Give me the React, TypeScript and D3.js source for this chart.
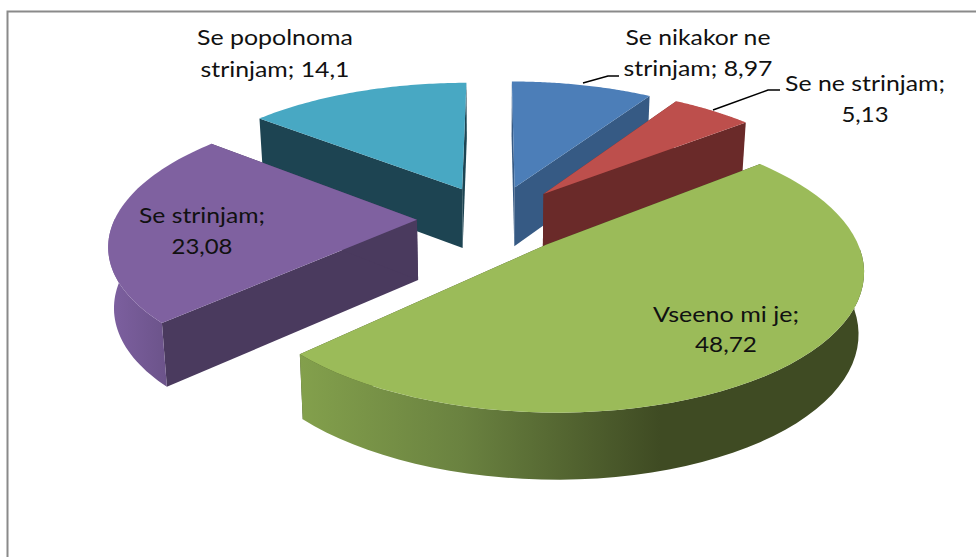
import React from "react";
import * as d3 from "d3";

const categories = ["Se nikakor ne strinjam", "Se ne strinjam", "Vseeno mi je", "Se strinjam", "Se popolnoma strinjam"];
const values = [8.97, 5.13, 48.72, 23.08, 14.1];
const topColors = ["#4c7eb8", "#bd4f4c", "#9bbb59", "#7f61a0", "#48a8c3"];
const wallColors = ["#365a84", "#6a2a29", "#3f4b23", "#4a3a5e", "#1d4452"];
const drawOrder = [4, 0, 1, 3, 2];

const W = 976, H = 557;
const CX = 494, CY = 218.5, R = 302, EXPLODE = 77, TILT = 0.437, PERSP = 0.16, DEPTH = 60;

const labelLayout = [
  { lines: ["Se nikakor ne", "strinjam; 8,97"], x: 698, y: [45, 76], len: [145, 149] },
  { lines: ["Se ne strinjam;", "5,13"], x: 865, y: [91, 122], len: [160, 47] },
  { lines: ["Vseeno mi je;", "48,72"], x: 726, y: [322, 352], len: [146, 62] },
  { lines: ["Se strinjam;", "23,08"], x: 202, y: [223, 254], len: [126, 61] },
  { lines: ["Se popolnoma", "strinjam; 14,1"], x: 275, y: [45, 77], len: [156, 149] },
];

const pie = d3.pie<number>().sort(null).startAngle(0).endAngle(2 * Math.PI);
const arcs = pie(values);
const path = d3.line<[number, number]>();

type Pt = { x: number; y: number; bx: number; by: number };

function project(U: number, V: number): Pt {
  const s = 1 / (1 - (PERSP * V) / R);
  const x = CX + U * s;
  const y = CY + V * TILT * s;
  return { x, y, bx: CX + (x - CX) * 0.985, by: y + DEPTH * (0.5 + 0.5 * s) };
}

function slicePoints(a: d3.PieArcDatum<number>) {
  const mid = (a.startAngle + a.endAngle) / 2;
  const ox = EXPLODE * Math.sin(mid), oy = -EXPLODE * Math.cos(mid);
  const apex = project(ox, oy);
  const angles = d3.range(0, 61).map((i) => a.startAngle + ((a.endAngle - a.startAngle) * i) / 60);
  const rim = angles.map((t) => project(ox + R * Math.sin(t), oy - R * Math.cos(t)));
  const front = angles
    .filter((t) => Math.cos(t) <= 0.02)
    .map((t) => project(ox + R * Math.sin(t), oy - R * Math.cos(t)));
  return { apex, rim, front };
}

const top = (p: Pt): [number, number] => [p.x, p.y];
const bot = (p: Pt): [number, number] => [p.bx, p.by];

export default function App() {
  return (
    <svg width={W} height={H} style={{ position: "absolute", left: 0, top: 0, display: "block", background: "#fff" }}>
      <defs>
        <linearGradient id="wall2" gradientUnits="userSpaceOnUse" x1={300} x2={660} y1={0} y2={0}>
          <stop offset="0" stopColor="#83a04c" />
          <stop offset="0.45" stopColor="#6a8240" />
          <stop offset="1" stopColor="#3f4b23" />
        </linearGradient>
        <linearGradient id="wall3" gradientUnits="userSpaceOnUse" x1={110} x2={172} y1={0} y2={0}>
          <stop offset="0" stopColor="#7d60a0" />
          <stop offset="1" stopColor="#6a5288" />
        </linearGradient>
      </defs>
      <path d={`M7.5,${H}V11.5H${W}`} fill="none" stroke="#8a8a8a" strokeWidth={2} />
      {drawOrder.map((i) => {
        const { apex, rim, front } = slicePoints(arcs[i]);
        const first = rim[0], last = rim[rim.length - 1];
        const outer = [...front.map(top), ...front.slice().reverse().map(bot)];
        const outerFill = i === 2 ? "url(#wall2)" : i === 3 ? "url(#wall3)" : wallColors[i];
        return (
          <g key={categories[i]}>
            <path d={path([top(apex), top(first), bot(first), bot(apex)]) + "Z"} fill={wallColors[i]} />
            <path d={path([top(apex), top(last), bot(last), bot(apex)]) + "Z"} fill={wallColors[i]} />
            {front.length > 1 && <path d={path(outer) + "Z"} fill={outerFill} />}
            <path d={path([top(apex), ...rim.map(top)]) + "Z"} fill={topColors[i]} />
          </g>
        );
      })}
      <path d="M583,83L608,76H619" fill="none" stroke="#000" strokeWidth={1.5} />
      <path d="M713,110L768,90H780" fill="none" stroke="#000" strokeWidth={1.5} />
      {labelLayout.map((l) =>
        l.lines.map((t, j) => (
          <text
            key={t}
            x={l.x}
            y={l.y[j]}
            textAnchor="middle"
            textLength={l.len[j]}
            lengthAdjust="spacingAndGlyphs"
            fontFamily="Lato, 'Open Sans', sans-serif"
            fontSize={22}
            fill="#111"
          >
            {t}
          </text>
        ))
      )}
    </svg>
  );
}
